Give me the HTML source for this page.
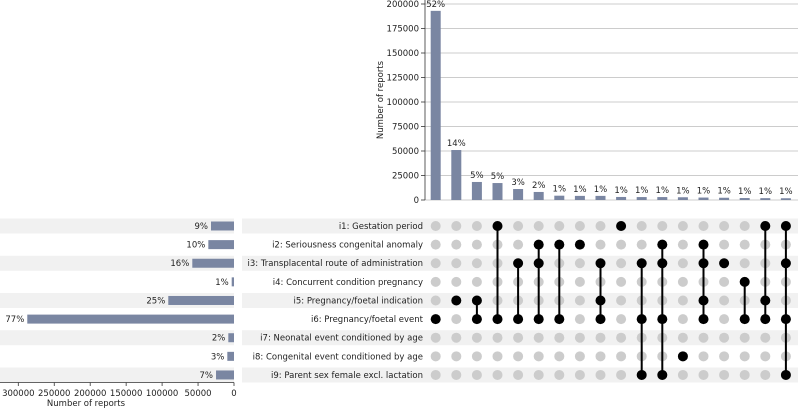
<!DOCTYPE html>
<html><head><meta charset="utf-8"><style>
html,body{margin:0;padding:0;background:#fff;}
svg{display:block;font-family:"DejaVu Sans","Liberation Sans",sans-serif;}
</style></head><body>
<svg id="c" width="798" height="408" viewBox="0 0 798 408"></svg>
<script>
const setLabels=["i1: Gestation period","i2: Seriousness congenital anomaly","i3: Transplacental route of administration","i4: Concurrent condition pregnancy","i5: Pregnancy/foetal indication","i6: Pregnancy/foetal event","i7: Neonatal event conditioned by age","i8: Congenital event conditioned by age","i9: Parent sex female excl. lactation"];
const setSizes=[32000,35700,58000,3200,91400,287500,7900,9300,25000];
const setPct=["9%","10%","16%","1%","25%","77%","2%","3%","7%"];
const interSizes=[193000,51000,18400,17300,11200,8200,4400,4200,4200,3100,3000,3000,2800,2500,2300,2000,1900,1800];
const interPct=["52%","14%","5%","5%","3%","2%","1%","1%","1%","1%","1%","1%","1%","1%","1%","1%","1%","1%"];
const members=[[6],[5],[5,6],[1,6],[3,6],[2,3,6],[2,6],[2],[3,5,6],[1],[3,6,9],[2,3,6,9],[8],[2,3,5,6],[3],[4,6],[1,5,6],[1,3,6,9]];
const yTicks=[0,25000,50000,75000,100000,125000,150000,175000,200000];
const xTicks=[0,50000,100000,150000,200000,250000,300000];

const svg=document.getElementById('c');
const NS='http://www.w3.org/2000/svg';
const FS=8.5;
function mk(tag,attrs,parent){const e=document.createElementNS(NS,tag);for(const k in attrs)e.setAttribute(k,attrs[k]);(parent||svg).appendChild(e);return e;}
const colX=i=>435.7+i*20.6;
const yTop=v=>200-v*196/200000;
const rowY=r=>226+r*18.62;
const xLeft=v=>234-v*215.7/300000;
const barCol='#7a86a2';

for(let r=0;r<9;r+=2){
  const b1=mk('rect',{x:0,y:rowY(r)-7.5,width:234,height:15,fill:'#f1f1f1'});
  
  
  const b2=mk('rect',{x:242,y:rowY(r)-7.5,width:556,height:15,fill:'#f1f1f1'});
  
  
}
yTicks.forEach(t=>{
  const y=yTop(t);
  const g=mk('line',{x1:425,x2:798,y1:y,y2:y,stroke:'#cccccc','stroke-width':1});
  
  
  mk('line',{x1:421,x2:425,y1:y,y2:y,stroke:'#333','stroke-width':0.8});
  const tx=mk('text',{x:419,y:y+3,'text-anchor':'end','font-size':FS,fill:'#222'});
  tx.textContent=t;
  
  
});
const ax=mk('line',{x1:425,x2:425,y1:0,y2:200,stroke:'#333','stroke-width':0.8});


const yt=mk('text',{x:0,y:0,transform:'translate(383,100) rotate(-90)','text-anchor':'middle','font-size':FS,fill:'#222'});
yt.textContent='Number of reports';



interSizes.forEach((v,i)=>{
  const x=colX(i);
  const b=mk('rect',{x:x-5,y:yTop(v),width:10,height:200-yTop(v),fill:barCol});
  
  
  const t=mk('text',{x:x,y:yTop(v)-4,'text-anchor':'middle','font-size':FS,fill:'#222'});
  t.textContent=interPct[i];
  
  
});

members.forEach((m,i)=>{
  const x=colX(i);
  for(let r=0;r<9;r++){
    const d=mk('circle',{cx:x,cy:rowY(r),r:5,fill:'#cccccc'});
    
    
  }
  const lo=Math.min(...m)-1,hi=Math.max(...m)-1;
  if(hi>lo){
    const l=mk('line',{x1:x,x2:x,y1:rowY(lo),y2:rowY(hi),stroke:'#000','stroke-width':2});
    
    
  }
  m.forEach(k=>{
    const d=mk('circle',{cx:x,cy:rowY(k-1),r:5,fill:'#000'});
    
    
  });
});

setLabels.forEach((s,r)=>{
  const y=rowY(r);
  const t=mk('text',{x:423,y:y+3,'text-anchor':'end','font-size':FS,fill:'#222'});
  t.textContent=s;
  
  
  const x=xLeft(setSizes[r]);
  const b=mk('rect',{x:x,y:y-4.5,width:234-x,height:9,fill:barCol});
  
  
  const p=mk('text',{x:x-3,y:y+3,'text-anchor':'end','font-size':FS,fill:'#222'});
  p.textContent=setPct[r];
  
  
});
const bx=mk('line',{x1:0,x2:234,y1:382.5,y2:382.5,stroke:'#333','stroke-width':0.8});


xTicks.forEach(t=>{
  const x=xLeft(t);
  mk('line',{x1:x,x2:x,y1:382.5,y2:386,stroke:'#333','stroke-width':0.8});
  const tx=mk('text',{x:x,y:396,'text-anchor':'middle','font-size':FS,fill:'#222'});
  tx.textContent=t;
  
  
});
const xt=mk('text',{x:86,y:406,'text-anchor':'middle','font-size':FS,fill:'#222'});
xt.textContent='Number of reports';


</script>
</body></html>
